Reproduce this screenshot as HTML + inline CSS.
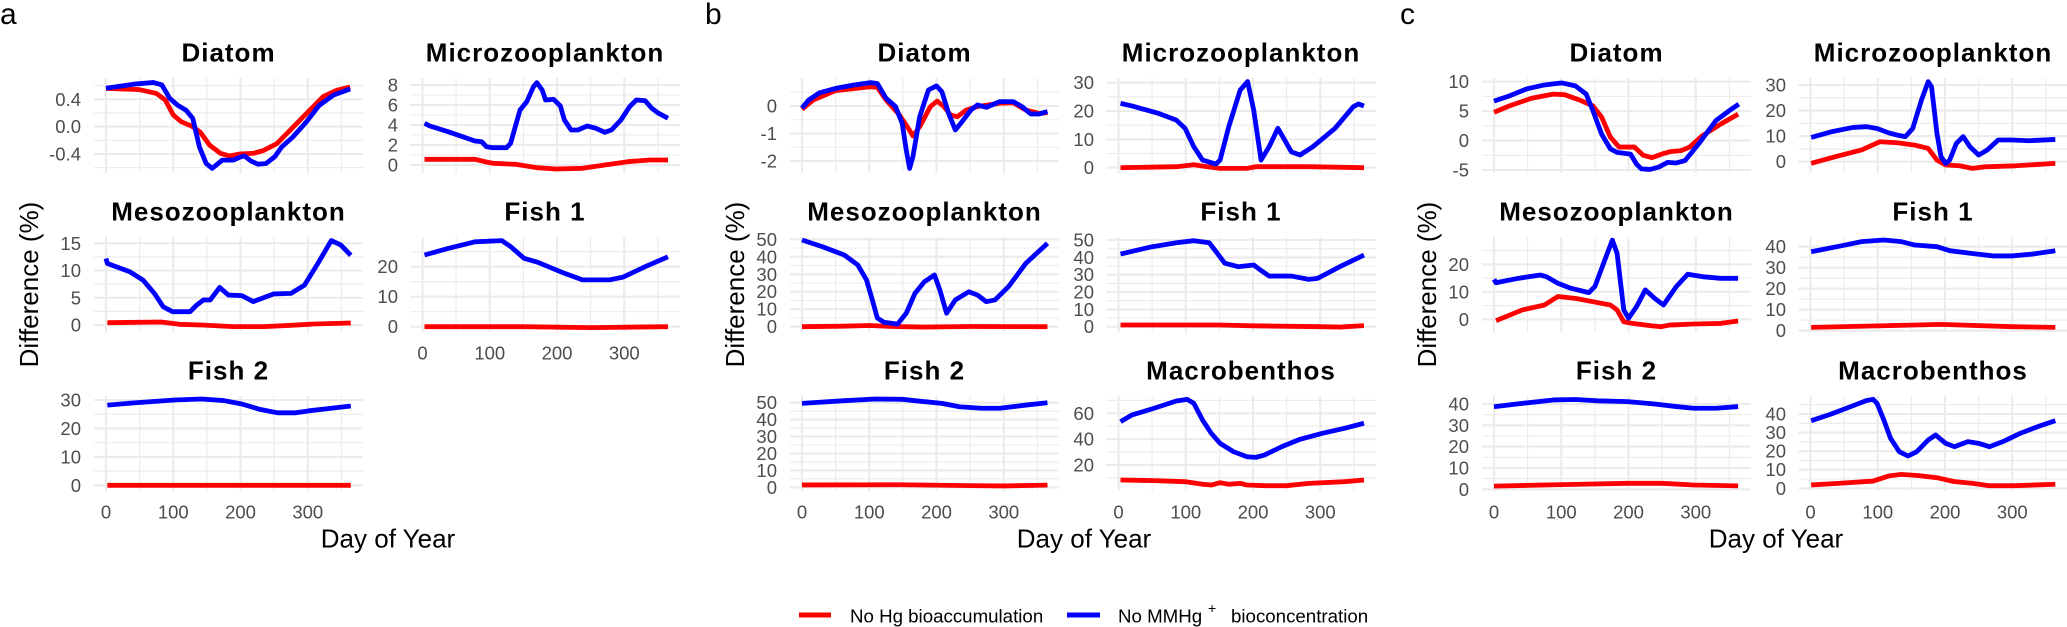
<!DOCTYPE html>
<html><head><meta charset="utf-8">
<style>
html,body{margin:0;padding:0;background:#fff;}
svg{display:block;}
.mi{stroke:#ebebeb;stroke-width:1.1;fill:none;}
.ma{stroke:#ebebeb;stroke-width:2.1;fill:none;}
.r,.b{fill:none;stroke-width:4.8;stroke-linejoin:round;stroke-linecap:butt;vector-effect:non-scaling-stroke;}
.r{stroke:#ff0000;}
.b{stroke:#0000ff;}
text{font-family:"Liberation Sans",Arial,sans-serif;}
.yt{font-size:18.5px;fill:#4d4d4d;text-anchor:end;}
.xt{font-size:18.5px;fill:#4d4d4d;text-anchor:middle;}
.tt{font-size:26px;font-weight:bold;fill:#000;text-anchor:middle;letter-spacing:1px;}
.at{font-size:26px;fill:#000;text-anchor:middle;}
.lab{font-size:30px;fill:#000;}
.lg{font-size:18.7px;fill:#000;}
</style></head>
<body>
<svg width="2067" height="627" viewBox="0 0 2067 627" xmlns="http://www.w3.org/2000/svg">
<defs>
<g id="vg">
<path class="mi" d="M33.6 0V95M100.9 0V95M168.1 0V95M235.4 0V95"/>
<path class="ma" d="M0 0V95M67.25 0V95M134.5 0V95M201.75 0V95"/>
</g>
</defs>
<rect width="2067" height="627" fill="#fff"/>

<text class="lab" x="0" y="24">a</text>
<text class="lab" x="705" y="24">b</text>
<text class="lab" x="1400" y="24">c</text>

<!-- ================= A ================= -->
<g transform="translate(0,0)">
<text class="at" transform="translate(38,284.5) rotate(-90)">Difference (%)</text>
<text class="at" x="388" y="547.7">Day of Year</text>

<!-- Diatom -->
<text class="tt" x="228.5" y="61.7">Diatom</text>
<use href="#vg" x="106" y="78"/>
<path class="mi" d="M94 85.6H363M94 112.9H363M94 140.3H363M94 167.6H363"/>
<path class="ma" d="M94 99.3H363M94 126.6H363M94 154H363"/>
<text class="yt" x="81" y="105.8">0.4</text><text class="yt" x="81" y="133.1">0.0</text><text class="yt" x="81" y="160.5">-0.4</text>
<g transform="matrix(0.6725 0 0 -68.4 106 126.6)">
<polyline class="r" vector-effect="non-scaling-stroke" points="0,0.56 50,0.54 75,0.485 88,0.39 100,0.17 112,0.07 127,0.01 140,-0.08 154,-0.27 170,-0.39 184,-0.43 199,-0.40 219,-0.39 234,-0.35 254,-0.25 274,-0.05 298,0.19 323,0.44 343,0.53 363,0.58"/>
<polyline class="b" vector-effect="non-scaling-stroke" points="0,0.56 41,0.62 70,0.645 83,0.61 95,0.41 107,0.31 119,0.24 129,0.12 139,-0.30 149,-0.54 158,-0.61 173,-0.49 189,-0.49 201,-0.44 206,-0.43 215,-0.5 226,-0.55 238,-0.54 251,-0.44 261,-0.30 278,-0.15 298,0.07 317,0.31 338,0.46 363,0.55"/>
</g>

<!-- Microzooplankton -->
<text class="tt" x="545" y="61.7">Microzooplankton</text>
<use href="#vg" x="422.5" y="78"/>
<path class="mi" d="M410.5 155H680M410.5 135H680M410.5 115H680M410.5 95H680"/>
<path class="ma" d="M410.5 165H680M410.5 145H680M410.5 125H680M410.5 105H680M410.5 85H680"/>
<text class="yt" x="398" y="91.5">8</text><text class="yt" x="398" y="111.5">6</text><text class="yt" x="398" y="131.5">4</text><text class="yt" x="398" y="151.5">2</text><text class="yt" x="398" y="171.5">0</text>
<g transform="matrix(0.6725 0 0 -10 422.5 165)">
<polyline class="r" vector-effect="non-scaling-stroke" points="3,0.57 78,0.57 95,0.3 105,0.17 138,0.07 171,-0.27 198,-0.4 238,-0.33 271,0 305,0.33 338,0.5 365,0.5"/>
<polyline class="b" vector-effect="non-scaling-stroke" points="3,4.17 11,3.9 38,3.33 78,2.4 88,2.33 95,1.83 105,1.73 125,1.73 131,2.17 145,5.5 155,6.33 165,7.83 170,8.23 178,7.5 183,6.5 195,6.57 205,5.9 211,4.5 221,3.5 231,3.5 245,3.9 258,3.67 271,3.27 281,3.5 295,4.5 308,5.83 318,6.5 331,6.43 341,5.67 351,5.17 365,4.67"/>
</g>

<!-- Mesozooplankton -->
<text class="tt" x="228.5" y="220.7">Mesozooplankton</text>
<use href="#vg" x="106" y="237"/>
<path class="mi" d="M94 311.4H363M94 284.1H363M94 256.9H363"/>
<path class="ma" d="M94 325H363M94 297.8H363M94 270.5H363M94 243.3H363"/>
<text class="yt" x="81" y="249.8">15</text><text class="yt" x="81" y="277">10</text><text class="yt" x="81" y="304.3">5</text><text class="yt" x="81" y="331.5">0</text>
<g transform="matrix(0.6725 0 0 -5.447 106 325)">
<polyline class="r" vector-effect="non-scaling-stroke" points="2,0.42 82,0.55 109,0.13 142,0 189,-0.3 235,-0.3 275,-0.06 309,0.18 364,0.37"/>
<polyline class="b" vector-effect="non-scaling-stroke" points="0,12.2 2,11.3 35,9.8 55,8.25 72,5.8 85,3.36 99,2.44 125,2.44 135,3.67 145,4.6 155,4.6 169,6.9 182,5.5 202,5.4 219,4.3 249,5.7 275,5.8 295,7.3 315,11.3 335,15.5 349,14.7 364,12.8"/>
</g>

<!-- Fish 1 -->
<text class="tt" x="545" y="220.7">Fish 1</text>
<use href="#vg" x="422.5" y="237"/>
<path class="mi" d="M410.5 311.7H680M410.5 281.7H680M410.5 251.7H680"/>
<path class="ma" d="M410.5 326.7H680M410.5 296.7H680M410.5 266.7H680"/>
<text class="yt" x="398" y="273.2">20</text><text class="yt" x="398" y="303.2">10</text><text class="yt" x="398" y="333.2">0</text>
<text class="xt" x="422.5" y="359.3">0</text><text class="xt" x="489.75" y="359.3">100</text><text class="xt" x="557" y="359.3">200</text><text class="xt" x="624.25" y="359.3">300</text>
<g transform="matrix(0.6725 0 0 -3 422.5 326.7)">
<polyline class="r" vector-effect="non-scaling-stroke" points="3,0 150,0 250,-0.3 365,0"/>
<polyline class="b" vector-effect="non-scaling-stroke" points="3,23.9 38,26.1 78,28.3 118,28.7 131,26.7 151,22.8 171,21.5 211,17.8 238,15.6 278,15.6 298,16.5 331,20 365,23.3"/>
</g>

<!-- Fish 2 -->
<text class="tt" x="228.5" y="379.7">Fish 2</text>
<use href="#vg" x="106" y="396"/>
<path class="mi" d="M94 471.1H363M94 442.7H363M94 414.2H363"/>
<path class="ma" d="M94 485.3H363M94 456.9H363M94 428.4H363M94 400H363"/>
<text class="yt" x="81" y="406.5">30</text><text class="yt" x="81" y="434.9">20</text><text class="yt" x="81" y="463.4">10</text><text class="yt" x="81" y="491.8">0</text>
<text class="xt" x="106" y="518.3">0</text><text class="xt" x="173.25" y="518.3">100</text><text class="xt" x="240.5" y="518.3">200</text><text class="xt" x="307.75" y="518.3">300</text>
<g transform="matrix(0.6725 0 0 -2.843 106 485.3)">
<polyline class="r" vector-effect="non-scaling-stroke" points="2,0 364,0"/>
<polyline class="b" vector-effect="non-scaling-stroke" points="2,28.2 42,29.0 102,30 142,30.35 175,29.8 202,28.6 229,26.7 255,25.5 282,25.5 302,26.2 335,27.1 364,27.9"/>
</g>
</g>

<!-- ================= B ================= -->
<g transform="translate(696,0)">
<text class="at" transform="translate(48,284.5) rotate(-90)">Difference (%)</text>
<text class="at" x="388" y="547.7">Day of Year</text>

<!-- Diatom -->
<text class="tt" x="228.5" y="61.7">Diatom</text>
<use href="#vg" x="106" y="78"/>
<path class="mi" d="M94 92.25H363M94 119.75H363M94 147.25H363"/>
<path class="ma" d="M94 106H363M94 133.5H363M94 161H363"/>
<text class="yt" x="81" y="112.5">0</text><text class="yt" x="81" y="140">-1</text><text class="yt" x="81" y="167.5">-2</text>
<g transform="matrix(0.6725 0 0 -27.5 106 106)">
<polyline class="r" vector-effect="non-scaling-stroke" points="0,-0.12 17,0.22 50,0.56 102,0.7 112,0.68 125,0.22 145,-0.33 158,-0.81 165,-1.09 175,-0.75 191,-0.02 201,0.18 211,-0.02 221,-0.33 231,-0.39 244,-0.15 261,-0.02 294,0.1 314,0.12 333,-0.15 353,-0.27 365,-0.24"/>
<polyline class="b" vector-effect="non-scaling-stroke" points="0,-0.08 10,0.22 26,0.48 50,0.64 76,0.76 102,0.85 112,0.82 125,0.28 139,-0.02 149,-0.63 155,-1.6 160,-2.27 165,-1.84 175,-0.39 188,0.58 200,0.73 208,0.52 218,-0.27 228,-0.87 238,-0.57 251,-0.15 261,0.04 274,-0.05 294,0.16 314,0.16 327,-0.02 340,-0.29 353,-0.29 365,-0.2"/>
</g>

<!-- Microzooplankton -->
<text class="tt" x="545" y="61.7">Microzooplankton</text>
<use href="#vg" x="422.5" y="78"/>
<path class="mi" d="M410.5 153.5H680M410.5 125.2H680M410.5 96.9H680"/>
<path class="ma" d="M410.5 167.7H680M410.5 139.4H680M410.5 111H680M410.5 82.7H680"/>
<text class="yt" x="398" y="89.2">30</text><text class="yt" x="398" y="117.5">20</text><text class="yt" x="398" y="145.9">10</text><text class="yt" x="398" y="174.2">0</text>
<g transform="matrix(0.6725 0 0 -2.833 422.5 167.7)">
<polyline class="r" vector-effect="non-scaling-stroke" points="3,0 86,0.35 112,1.06 132,0.35 151,-0.23 191,-0.23 204,0.35 283,0.35 365,0"/>
<polyline class="b" vector-effect="non-scaling-stroke" points="3,22.7 20,21.8 59,19.2 86,16.8 99,13.9 112,7.4 125,2.7 145,1.3 151,2.7 164,14.5 181,27.4 192,30.4 201,20.4 212,2.7 224,7.4 237,13.9 247,9.8 257,5.6 270,4.5 289,7.4 322,13.9 349,21.5 357,22.5 365,21.8"/>
</g>

<!-- Mesozooplankton -->
<text class="tt" x="228.5" y="220.7">Mesozooplankton</text>
<use href="#vg" x="106" y="237"/>
<path class="mi" d="M94 318H363M94 300.5H363M94 283H363M94 265.5H363M94 248H363"/>
<path class="ma" d="M94 326.7H363M94 309.2H363M94 291.7H363M94 274.3H363M94 256.8H363M94 239.3H363"/>
<text class="yt" x="81" y="245.8">50</text><text class="yt" x="81" y="263.3">40</text><text class="yt" x="81" y="280.8">30</text><text class="yt" x="81" y="298.2">20</text><text class="yt" x="81" y="315.7">10</text><text class="yt" x="81" y="333.2">0</text>
<g transform="matrix(0.6725 0 0 -1.748 106 326.7)">
<polyline class="r" vector-effect="non-scaling-stroke" points="0,0 60,0.3 100,0.7 130,0.2 150,0 180,-0.2 250,0.1 365,0"/>
<polyline class="b" vector-effect="non-scaling-stroke" points="0,49.6 30,45.8 63,41 83,35.3 96,26.7 106,13.4 112,5 122,2.5 142,1.5 155,7.7 168,19.1 182,25.7 197,29.6 205,21 215,7.7 228,15.3 248,20 261,18.1 274,14.3 287,15.3 307,22.9 333,36.3 365,47.7"/>
</g>

<!-- Fish 1 -->
<text class="tt" x="545" y="220.7">Fish 1</text>
<use href="#vg" x="422.5" y="237"/>
<path class="mi" d="M410.5 318H680M410.5 300.7H680M410.5 283.4H680M410.5 266H680M410.5 248.7H680"/>
<path class="ma" d="M410.5 326.7H680M410.5 309.4H680M410.5 292H680M410.5 274.7H680M410.5 257.4H680M410.5 240H680"/>
<text class="yt" x="398" y="246.5">50</text><text class="yt" x="398" y="263.9">40</text><text class="yt" x="398" y="281.2">30</text><text class="yt" x="398" y="298.5">20</text><text class="yt" x="398" y="315.9">10</text><text class="yt" x="398" y="333.2">0</text>
<g transform="matrix(0.6725 0 0 -1.734 422.5 326.7)">
<polyline class="r" vector-effect="non-scaling-stroke" points="3,1 150,1 200,0.5 300,0 330,-0.2 365,0.6"/>
<polyline class="b" vector-effect="non-scaling-stroke" points="3,41.9 46,45.8 86,48.4 112,49.6 135,48.4 145,43.3 158,36.6 178,34.6 201,35.6 211,32.7 224,29.2 257,29.2 283,27.3 296,27.9 329,34.6 365,41.3"/>
</g>

<!-- Fish 2 -->
<text class="tt" x="228.5" y="379.7">Fish 2</text>
<use href="#vg" x="106" y="396"/>
<path class="mi" d="M94 478.8H363M94 461.9H363M94 445H363M94 428.1H363M94 411.2H363"/>
<path class="ma" d="M94 487.3H363M94 470.4H363M94 453.5H363M94 436.5H363M94 419.6H363M94 402.7H363"/>
<text class="yt" x="81" y="409.2">50</text><text class="yt" x="81" y="426.1">40</text><text class="yt" x="81" y="443">30</text><text class="yt" x="81" y="460">20</text><text class="yt" x="81" y="476.9">10</text><text class="yt" x="81" y="493.8">0</text>
<text class="xt" x="106" y="518.3">0</text><text class="xt" x="173.25" y="518.3">100</text><text class="xt" x="240.5" y="518.3">200</text><text class="xt" x="307.75" y="518.3">300</text>
<g transform="matrix(0.6725 0 0 -1.692 106 487.3)">
<polyline class="r" vector-effect="non-scaling-stroke" points="0,1.4 150,1.5 250,1 300,0.8 365,1.3"/>
<polyline class="b" vector-effect="non-scaling-stroke" points="0,49.6 63,51.2 109,52.2 149,52 175,50.9 208,49.6 234,47.6 267,46.7 294,46.7 333,48.6 365,50"/>
</g>

<!-- Macrobenthos -->
<text class="tt" x="545" y="379.7">Macrobenthos</text>
<use href="#vg" x="422.5" y="396"/>
<path class="mi" d="M410.5 477.9H680M410.5 452.1H680M410.5 426.2H680M410.5 400.4H680"/>
<path class="ma" d="M410.5 465H680M410.5 439.15H680M410.5 413.3H680"/>
<text class="yt" x="398" y="419.8">60</text><text class="yt" x="398" y="445.7">40</text><text class="yt" x="398" y="471.5">20</text>
<text class="xt" x="422.5" y="518.3">0</text><text class="xt" x="489.75" y="518.3">100</text><text class="xt" x="557" y="518.3">200</text><text class="xt" x="624.25" y="518.3">300</text>
<g transform="matrix(0.6725 0 0 -1.2925 422.5 490.85)">
<polyline class="r" vector-effect="non-scaling-stroke" points="3,8.4 53,7.9 99,7.1 125,5.1 138,4.5 151,6.3 164,5.1 181,5.8 191,4.5 217,4 250,4 283,5.8 336,7.1 365,8.4"/>
<polyline class="b" vector-effect="non-scaling-stroke" points="3,53.5 20,58.7 53,63.9 86,69.5 102,70.8 112,67.7 125,54.8 138,44.5 151,36.8 171,30.3 191,26.4 204,25.9 217,27.7 243,34.2 270,39.9 303,44.5 336,48.4 365,52.3"/>
</g>
</g>

<!-- ================= C ================= -->
<g transform="translate(1388,0)">
<text class="at" transform="translate(48,284.5) rotate(-90)">Difference (%)</text>
<text class="at" x="388" y="547.7">Day of Year</text>

<!-- Diatom -->
<text class="tt" x="228.5" y="61.7">Diatom</text>
<use href="#vg" x="106" y="78"/>
<path class="mi" d="M94 155.3H363M94 125.9H363M94 96.4H363"/>
<path class="ma" d="M94 170H363M94 140.6H363M94 111.2H363M94 81.7H363"/>
<text class="yt" x="81" y="88.2">10</text><text class="yt" x="81" y="117.7">5</text><text class="yt" x="81" y="147.1">0</text><text class="yt" x="81" y="176.5">-5</text>
<g transform="matrix(0.6725 0 0 -5.887 106 140.6)">
<polyline class="r" vector-effect="non-scaling-stroke" points="0,4.8 23,5.9 56,7.2 88,7.9 105,7.8 127,6.9 147,5.9 160,4.0 173,0.6 186,-1.1 199,-1.1 209,-1.1 222,-2.5 235,-2.9 252,-2.2 261,-1.9 278,-1.7 291,-1.1 310,0.85 337,2.8 363,4.5"/>
<polyline class="b" vector-effect="non-scaling-stroke" points="0,6.7 23,7.6 49,8.8 75,9.45 101,9.8 121,9.3 137,7.9 147,5.1 160,1.1 173,-1.4 183,-2.0 203,-2.3 212,-4.0 219,-4.8 232,-4.9 245,-4.5 258,-3.7 271,-3.8 284,-3.4 304,-0.6 330,3.4 350,5.1 364,6.2"/>
</g>

<!-- Microzooplankton -->
<text class="tt" x="545" y="61.7">Microzooplankton</text>
<use href="#vg" x="422.5" y="78"/>
<path class="mi" d="M410.5 148.9H680M410.5 123.3H680M410.5 97.8H680"/>
<path class="ma" d="M410.5 161.7H680M410.5 136.1H680M410.5 110.6H680M410.5 85H680"/>
<text class="yt" x="398" y="91.5">30</text><text class="yt" x="398" y="117.1">20</text><text class="yt" x="398" y="142.6">10</text><text class="yt" x="398" y="168.2">0</text>
<g transform="matrix(0.6725 0 0 -2.557 422.5 161.7)">
<polyline class="r" vector-effect="non-scaling-stroke" points="1,-0.65 37,1.96 76,4.6 103,7.8 129,7.4 155,6.5 175,5.2 188,0.65 201,-1.3 221,-1.6 241,-2.6 259,-2.0 305,-1.6 364,-0.65"/>
<polyline class="b" vector-effect="non-scaling-stroke" points="1,9.5 31,11.7 63,13.4 83,13.7 99,13.0 116,11.3 129,10.4 141,9.8 152,13 165,24.1 175,31.3 180,29.3 188,11.1 194,2.0 201,-0.7 207,0.65 217,7.2 227,9.8 237,5.9 250,2.6 263,4.6 279,8.5 299,8.5 325,8.2 364,8.7"/>
</g>

<!-- Mesozooplankton -->
<text class="tt" x="228.5" y="220.7">Mesozooplankton</text>
<use href="#vg" x="106" y="237"/>
<path class="mi" d="M94 305.6H363M94 278.1H363M94 250.6H363"/>
<path class="ma" d="M94 319.3H363M94 291.8H363M94 264.3H363"/>
<text class="yt" x="81" y="270.8">20</text><text class="yt" x="81" y="298.3">10</text><text class="yt" x="81" y="325.8">0</text>
<g transform="matrix(0.6725 0 0 -2.75 106 319.3)">
<polyline class="r" vector-effect="non-scaling-stroke" points="3,-0.5 42,3.4 75,5.2 95,8.3 121,7.6 147,6.4 173,5.2 183,3.4 193,-0.9 206,-1.5 232,-2.3 248,-2.7 261,-2.1 297,-1.7 337,-1.5 363,-0.6"/>
<polyline class="b" vector-effect="non-scaling-stroke" points="0,14.5 3,13.3 36,14.9 69,16.1 78,15.5 95,13.1 114,11.3 141,9.7 150,11.9 163,20.4 176,28.8 183,24 193,3.4 200,0.4 212,4.6 225,10.7 239,7.6 252,5.2 271,11.9 288,16.4 310,15.5 337,14.9 363,14.9"/>
</g>

<!-- Fish 1 -->
<text class="tt" x="545" y="220.7">Fish 1</text>
<use href="#vg" x="422.5" y="237"/>
<path class="mi" d="M410.5 320.2H680M410.5 299.2H680M410.5 278.2H680M410.5 257.2H680"/>
<path class="ma" d="M410.5 330.7H680M410.5 309.7H680M410.5 288.7H680M410.5 267.7H680M410.5 246.7H680"/>
<text class="yt" x="398" y="253.2">40</text><text class="yt" x="398" y="274.2">30</text><text class="yt" x="398" y="295.2">20</text><text class="yt" x="398" y="316.2">10</text><text class="yt" x="398" y="337.2">0</text>
<g transform="matrix(0.6725 0 0 -2.1 422.5 330.7)">
<polyline class="r" vector-effect="non-scaling-stroke" points="1,1.6 100,2.3 194,3.0 300,1.9 364,1.6"/>
<polyline class="b" vector-effect="non-scaling-stroke" points="1,37.6 44,40.3 76,42.4 109,43.2 135,42.4 155,40.8 188,40 207,38.1 239,36.8 272,35.6 299,35.6 331,36.5 364,38.1"/>
</g>

<!-- Fish 2 -->
<text class="tt" x="228.5" y="379.7">Fish 2</text>
<use href="#vg" x="106" y="396"/>
<path class="mi" d="M94 478.6H363M94 457.3H363M94 436H363M94 414.7H363"/>
<path class="ma" d="M94 489.3H363M94 468H363M94 446.6H363M94 425.3H363M94 404H363"/>
<text class="yt" x="81" y="410.5">40</text><text class="yt" x="81" y="431.8">30</text><text class="yt" x="81" y="453.1">20</text><text class="yt" x="81" y="474.5">10</text><text class="yt" x="81" y="495.8">0</text>
<text class="xt" x="106" y="518.3">0</text><text class="xt" x="173.25" y="518.3">100</text><text class="xt" x="240.5" y="518.3">200</text><text class="xt" x="307.75" y="518.3">300</text>
<g transform="matrix(0.6725 0 0 -2.1325 106 489.3)">
<polyline class="r" vector-effect="non-scaling-stroke" points="0,1.5 100,2.2 199,2.8 250,2.8 297,2.0 363,1.6"/>
<polyline class="b" vector-effect="non-scaling-stroke" points="0,38.7 42,40.3 88,41.9 121,42.1 154,41.5 199,41.1 239,40 271,38.8 297,38 330,38 363,38.8"/>
</g>

<!-- Macrobenthos -->
<text class="tt" x="545" y="379.7">Macrobenthos</text>
<use href="#vg" x="422.5" y="396"/>
<path class="mi" d="M410.5 479H680M410.5 460.4H680M410.5 441.9H680M410.5 423.3H680M410.5 404.7H680"/>
<path class="ma" d="M410.5 488.3H680M410.5 469.7H680M410.5 451.2H680M410.5 432.6H680M410.5 414H680"/>
<text class="yt" x="398" y="420.5">40</text><text class="yt" x="398" y="439.1">30</text><text class="yt" x="398" y="457.7">20</text><text class="yt" x="398" y="476.2">10</text><text class="yt" x="398" y="494.8">0</text>
<text class="xt" x="422.5" y="518.3">0</text><text class="xt" x="489.75" y="518.3">100</text><text class="xt" x="557" y="518.3">200</text><text class="xt" x="624.25" y="518.3">300</text>
<g transform="matrix(0.6725 0 0 -1.8575 422.5 488.3)">
<polyline class="r" vector-effect="non-scaling-stroke" points="1,1.8 44,2.7 93,3.9 116,6.6 135,7.5 161,6.8 188,5.7 214,3.6 240,2.7 266,1.4 305,1.4 364,2.2"/>
<polyline class="b" vector-effect="non-scaling-stroke" points="1,36.4 31,40 57,43.6 83,47.2 93,47.9 99,45.7 109,36.8 119,26.9 132,19.7 145,17.4 158,19.7 175,26 186,28.7 201,24.2 214,22.4 234,25.1 250,24.2 266,22.4 286,25.1 312,29.6 338,33.2 364,36.4"/>
</g>
</g>

<!-- ================= Legend ================= -->
<line x1="799" y1="615" x2="831" y2="615" stroke="#ff0000" stroke-width="5"/>
<text class="lg" x="850" y="622.5">No Hg bioaccumulation</text>
<line x1="1067" y1="615" x2="1100" y2="615" stroke="#0000ff" stroke-width="5"/>
<text class="lg" x="1118" y="622.5">No MMHg<tspan x="1208" y="613" font-size="14">+</tspan><tspan x="1231" y="622.5">bioconcentration</tspan></text>
</svg>
</body></html>
